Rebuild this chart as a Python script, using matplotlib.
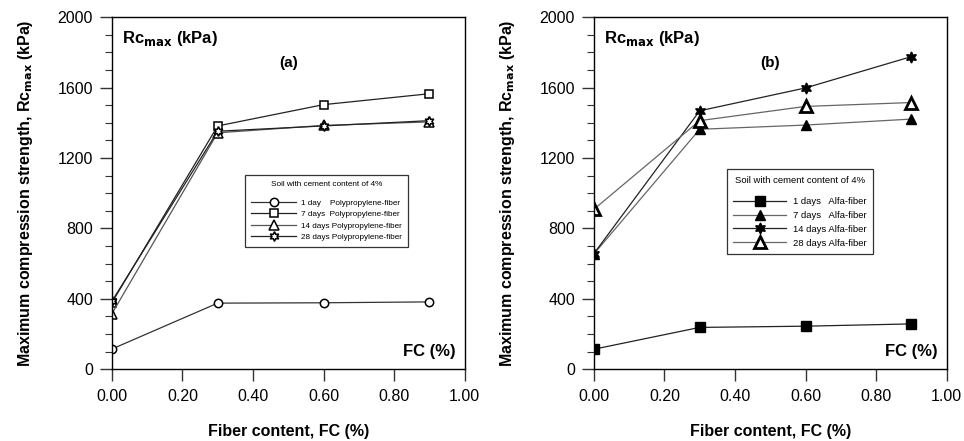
import numpy as np
import matplotlib.pyplot as plt

plt.rcParams['font.family'] = ['Liberation Sans', 'DejaVu Sans']

# fiber content (%)
fc = [0.0, 0.3, 0.6, 0.9]

# (a) polypropylene fiber, Rc max (kPa)
pp_labels = ['1 day    Polypropylene-fiber', '7 days  Polypropylene-fiber',
             '14 days Polypropylene-fiber', '28 days Polypropylene-fiber']
pp_1d = [114, 375, 377, 382]
pp_7d = [377, 1382, 1503, 1565]
pp_14d = [314, 1343, 1385, 1405]
pp_28d = [385, 1352, 1382, 1412]

# (b) alfa fiber, Rc max (kPa)
alfa_labels = ['1 days   Alfa-fiber', '7 days   Alfa-fiber',
               '14 days Alfa-fiber', '28 days Alfa-fiber']
alfa_1d = [113, 237, 244, 257]
alfa_7d = [654, 1363, 1387, 1421]
alfa_14d = [656, 1468, 1598, 1776]
alfa_28d = [908, 1412, 1493, 1515]

fig = plt.figure(figsize=(9.64, 4.41), dpi=100)
ax1 = fig.add_axes([0.116, 0.163, 0.366, 0.798])
ax2 = fig.add_axes([0.616, 0.163, 0.366, 0.798])

star = (6, 1, 0)

# panel a
ax1.plot(fc, pp_1d, '-', color='#333', lw=0.9, marker='o', ms=6, mfc='white', mec='black', mew=1.1, label=pp_labels[0])
ax1.plot(fc, pp_7d, '-', color='#222', lw=0.9, marker='s', ms=6, mfc='white', mec='black', mew=1.1, label=pp_labels[1])
ax1.plot(fc, pp_14d, '-', color='#555', lw=0.9, marker='^', ms=6.5, mfc='white', mec='black', mew=1.1, label=pp_labels[2])
ax1.plot(fc, pp_28d, '-', color='#222', lw=0.9, marker=star, ms=7, mfc='white', mec='black', mew=1.1, label=pp_labels[3])

# panel b
ax2.plot(fc, alfa_1d, '-', color='#222', lw=0.9, marker='s', ms=6.5, mfc='black', mec='black', label=alfa_labels[0])
ax2.plot(fc, alfa_7d, '-', color='#666', lw=0.9, marker='^', ms=7, mfc='black', mec='black', label=alfa_labels[1])
ax2.plot(fc, alfa_14d, '-', color='#222', lw=0.9, marker=star, ms=8, mfc='black', mec='black', label=alfa_labels[2])
ax2.plot(fc, alfa_28d, '-', color='#666', lw=0.9, marker='^', ms=8.5, mfc='white', mec='black', mew=2.0, label=alfa_labels[3])

for ax, tag in [(ax1, '(a)'), (ax2, '(b)')]:
    ax.set_xlim(0, 1.0)
    ax.set_ylim(0, 2000)
    ax.set_xticks(np.arange(0, 1.01, 0.2))
    ax.set_xticklabels(['%.2f' % v for v in np.arange(0, 1.01, 0.2)])
    ax.set_yticks(np.arange(0, 2001, 400))
    ax.set_yticks(np.arange(0, 2001, 100), minor=True)
    ax.tick_params(axis='both', which='major', direction='out', length=8.5, labelsize=11.5, width=1.0, color='#333')
    ax.tick_params(axis='x', which='major', pad=6)
    ax.tick_params(axis='y', which='major', pad=5)
    ax.tick_params(axis='y', which='minor', direction='out', length=5, width=0.8, color='#333')
    ax.tick_params(top=False, right=False)
    for s in ax.spines.values():
        s.set_linewidth(1.0)
    ax.set_xlabel('Fiber content, FC (%)', fontsize=11.5, fontweight='bold', labelpad=14)
    ax.set_ylabel('Maximum compression strength, Rc$_{\\mathbf{max}}$ (kPa)', fontsize=11.5, fontweight='bold', labelpad=16)
    ax.text(0.03, 0.94, 'Rc$_{\\mathbf{max}}$ (kPa)', transform=ax.transAxes, fontsize=12, fontweight='bold', va='center')
    ax.text(0.5, 0.87, tag, transform=ax.transAxes, fontsize=11, fontweight='bold', ha='center', va='center')
    ax.text(0.975, 0.05, 'FC (%)', transform=ax.transAxes, fontsize=12, fontweight='bold', ha='right', va='center')

leg1 = ax1.legend(title='Soil with cement content of 4%', loc='upper left', bbox_to_anchor=(0.377, 0.551),
                  fontsize=5.9, title_fontsize=5.9, frameon=True, fancybox=False, edgecolor='black',
                  handlelength=5.6, handletextpad=0.6, borderpad=0.7, labelspacing=0.45,
                  borderaxespad=0, markerscale=1.0)
leg1.get_frame().set_linewidth(0.9)
leg1._legend_box.sep = 8

leg2 = ax2.legend(title='Soil with cement content of 4%', loc='upper left', bbox_to_anchor=(0.377, 0.568),
                  fontsize=6.8, title_fontsize=6.8, frameon=True, fancybox=False, edgecolor='black',
                  handlelength=5.6, handletextpad=0.7, borderpad=0.7, labelspacing=0.5,
                  borderaxespad=0, markerscale=1.0)
leg2.get_frame().set_linewidth(0.9)
leg2._legend_box.sep = 9

fig.savefig('out.png', dpi=100)
